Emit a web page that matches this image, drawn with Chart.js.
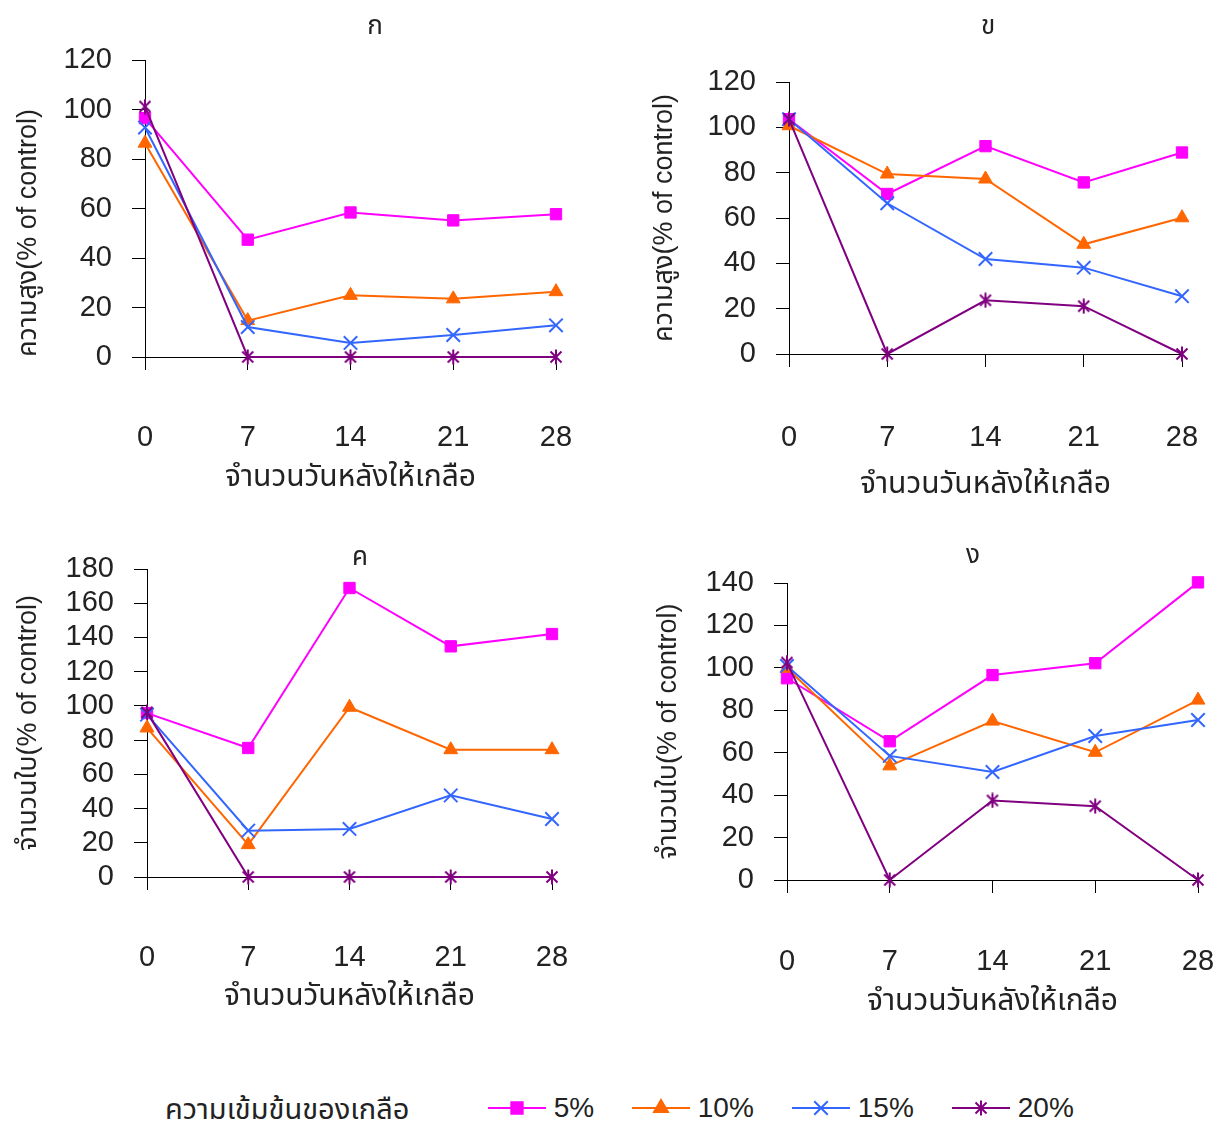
<!DOCTYPE html>
<html>
<head>
<meta charset="utf-8">
<script src="https://cdn.jsdelivr.net/npm/chart.js@4.4.1/dist/chart.umd.min.js"></script>
<style>
  html, body { margin: 0; padding: 0; background: #fff; }
  body { width: 1216px; height: 1124px; position: relative; overflow: hidden; }
  .panel { position: absolute; }
  #legend { position: absolute; left: 0; top: 1088px; width: 1216px; height: 36px; color: #222; }
  #legend .t { position: absolute; left: 165px; top: 0px; white-space: nowrap; }
  #legend .item { position: absolute; top: 4px; height: 32px; white-space: nowrap; }
  #legend canvas { vertical-align: middle; }
</style>
</head>
<body>
<canvas id="chartA" class="panel"></canvas>
<canvas id="chartB" class="panel"></canvas>
<canvas id="chartC" class="panel"></canvas>
<canvas id="chartD" class="panel"></canvas>
<div id="legend"></div>
<script>
// days after salt was given
const days = ['0', '7', '14', '21', '28'];
const seriesNames = ['5%', '10%', '15%', '20%'];

// ก : height (% of control)
const heightA5  = [96.5, 47.4, 58.4, 55.2, 57.7];
const heightA10 = [86.4, 14.7, 24.9, 23.5, 26.4];
const heightA15 = [92.7, 12.1, 5.7, 8.9, 12.8];
const heightA20 = [101.2, 0, 0, 0, 0];

// ข : height (% of control)
const heightB5  = [103.6, 70.6, 91.7, 75.7, 88.9];
const heightB10 = [100.7, 79.4, 77.2, 48.4, 60.1];
const heightB15 = [103.6, 66.5, 41.9, 38.1, 25.5];
const heightB20 = [103.6, 0, 23.7, 21.1, 0];

// ค : leaf number (% of control)
const leavesC5  = [95.8, 75.4, 168.9, 134.8, 142.0];
const leavesC10 = [87.1, 18.9, 99.2, 74.4, 74.4];
const leavesC15 = [94.9, 27.1, 28.1, 47.7, 33.9];
const leavesC20 = [96.2, 0, 0, 0, 0];

// ง : leaf number (% of control)
const leavesD5  = [95.1, 65.4, 96.6, 102.2, 140.3];
const leavesD10 = [99.8, 53.8, 74.9, 60.2, 84.8];
const leavesD15 = [100.9, 58.5, 50.9, 67.9, 75.4];
const leavesD20 = [102.5, 0, 37.5, 34.8, 0];

const FONT_NUM = "'Liberation Sans Narrow', 'Liberation Sans', sans-serif";
const FONT_TXT = "'Liberation Sans', 'Noto Sans Thai', 'Loma', 'Garuda', sans-serif";

// asterisk marker for the 20% series (X with a vertical bar)
function makeAsterisk(color) {
    const c = document.createElement('canvas');
    c.width = 16; c.height = 16;
    const g = c.getContext('2d');
    g.strokeStyle = color;
    g.lineWidth = 2;
    g.beginPath();
    g.moveTo(2.5, 2.5); g.lineTo(13.5, 13.5);
    g.moveTo(13.5, 2.5); g.lineTo(2.5, 13.5);
    g.moveTo(8, 0.5); g.lineTo(8, 15.5);
    g.stroke();
    return c;
}

const colors = ['#ff00ff', '#ff6600', '#3366ff', '#800080'];
const markers = ['rect', 'triangle', 'crossRot', makeAsterisk('#800080')];
const markerSize = [8, 8, 9.5, 8];

// draws the panel letter (ก ข ค ง) above each plot
const panelLetter = {
    id: 'panelLetter',
    afterDraw(chart, args, opts) {
        const ctx = chart.ctx;
        ctx.save();
        ctx.font = '26px ' + FONT_TXT;
        ctx.fillStyle = '#222';
        ctx.textAlign = 'center';
        ctx.textBaseline = 'middle';
        ctx.fillText(opts.text, opts.x, opts.y);
        ctx.restore();
    }
};

function makePanel(id, p) {
    const canvas = document.getElementById(id);
    canvas.style.left = p.box[0] + 'px';
    canvas.style.top = p.box[1] + 'px';
    canvas.style.width = p.box[2] + 'px';
    canvas.style.height = p.box[3] + 'px';
    canvas.width = p.box[2];
    canvas.height = p.box[3];

    const titleLh = 36;
    const tickLen = 13;
    const datasets = p.series.map((vals, i) => ({
        label: seriesNames[i],
        data: vals,
        borderColor: colors[i],
        backgroundColor: colors[i],
        borderWidth: 2,
        pointStyle: markers[i],
        pointRadius: markerSize[i],
        pointHoverRadius: markerSize[i],
        pointBorderWidth: i === 2 ? 2 : 1,
        tension: 0,
        order: 4 - i,
        clip: false
    }));

    const axisLine = { display: true, color: '#000', width: 1 };
    const gridOpts = { display: true, drawOnChartArea: false, drawTicks: true, tickLength: tickLen, color: '#000', lineWidth: 1 };

    return new Chart(canvas.getContext('2d'), {
        type: 'line',
        data: { labels: days, datasets: datasets },
        options: {
            responsive: false,
            animation: false,
            devicePixelRatio: 1,
            layout: {
                padding: {
                    left: 0,
                    top: p.plot[2] - p.box[1],
                    right: p.box[0] + p.box[2] - p.plot[1],
                    bottom: p.box[1] + p.box[3] - (p.xTitleY + titleLh / 2)
                }
            },
            plugins: {
                legend: { display: false },
                tooltip: { enabled: false },
                panelLetter: { text: p.letter, x: p.letterPos[0] - p.box[0], y: p.letterPos[1] - p.box[1] }
            },
            scales: {
                x: {
                    type: 'category',
                    offset: false,
                    grid: gridOpts,
                    border: axisLine,
                    ticks: {
                        color: '#222',
                        font: { family: FONT_NUM, size: 29 },
                        padding: p.xLabelY - p.plot[3] - tickLen - 17,
                        maxRotation: 0,
                        autoSkip: false
                    },
                    title: {
                        display: true,
                        text: 'จำนวนวันหลังให้เกลือ',
                        color: '#222',
                        font: { family: FONT_TXT, size: 30, lineHeight: titleLh / 30 },
                        padding: 0
                    },
                    afterFit(axis) {
                        axis.height = p.xTitleY + titleLh / 2 - p.plot[3];
                        axis.paddingLeft = 0;
                        axis.paddingRight = 0;
                    }
                },
                y: {
                    min: 0,
                    max: p.yMax,
                    grid: gridOpts,
                    border: axisLine,
                    ticks: {
                        stepSize: 20,
                        color: '#222',
                        font: { family: FONT_NUM, size: 29 },
                        padding: 20,
                        autoSkip: false
                    },
                    title: {
                        display: true,
                        text: p.yTitle,
                        align: p.yTitleAlign,
                        color: '#222',
                        font: { family: FONT_TXT, size: 27, lineHeight: 1.2 },
                        padding: { top: p.yTitleX - p.box[0] - 16, bottom: 0 }
                    },
                    afterFit(axis) {
                        axis.width = p.plot[0] - p.box[0];
                        axis.paddingTop = 0;
                        axis.paddingBottom = 0;
                    }
                }
            }
        },
        plugins: [panelLetter]
    });
}

makePanel('chartA', {
    box: [0, 0, 600, 520], plot: [145, 556, 60, 357],
    xLabelY: 438, xTitleY: 478, yTitleX: 28, yTitleAlign: 'start',
    yMax: 120, yTitle: 'ความสูง(% of control)',
    letter: 'ก', letterPos: [375, 27],
    series: [heightA5, heightA10, heightA15, heightA20]
});
makePanel('chartB', {
    box: [608, 0, 608, 520], plot: [789, 1182, 82, 354],
    xLabelY: 438, xTitleY: 485, yTitleX: 664, yTitleAlign: 'center',
    yMax: 120, yTitle: 'ความสูง(% of control)',
    letter: 'ข', letterPos: [988, 27],
    series: [heightB5, heightB10, heightB15, heightB20]
});
makePanel('chartC', {
    box: [0, 530, 600, 500], plot: [147, 552, 569, 877],
    xLabelY: 958, xTitleY: 997, yTitleX: 28, yTitleAlign: 'center',
    yMax: 180, yTitle: 'จำนวนใบ(% of control)',
    letter: 'ค', letterPos: [360, 558],
    series: [leavesC5, leavesC10, leavesC15, leavesC20]
});
makePanel('chartD', {
    box: [608, 530, 608, 500], plot: [787, 1198, 583, 880],
    xLabelY: 962, xTitleY: 1002, yTitleX: 668, yTitleAlign: 'center',
    yMax: 140, yTitle: 'จำนวนใบ(% of control)',
    letter: 'ง', letterPos: [973, 556],
    series: [leavesD5, leavesD10, leavesD15, leavesD20]
});

// legend row: salt concentration
const legend = document.getElementById('legend');
const title = document.createElement('span');
title.className = 't';
title.textContent = 'ความเข้มข้นของเกลือ';
title.style.fontFamily = FONT_TXT;
title.style.fontSize = '29px';
legend.appendChild(title);

const itemLeft = [488, 632, 792, 952];
seriesNames.forEach((name, i) => {
    const item = document.createElement('div');
    item.className = 'item';
    item.style.left = itemLeft[i] + 'px';
    const c = document.createElement('canvas');
    c.width = 58; c.height = 24;
    const g = c.getContext('2d');
    g.strokeStyle = colors[i];
    g.lineWidth = 2;
    g.beginPath(); g.moveTo(0, 12); g.lineTo(58, 12); g.stroke();
    g.fillStyle = colors[i];
    Chart.helpers.drawPoint(g, {
        pointStyle: markers[i], radius: markerSize[i], rotation: 0,
        borderWidth: i === 2 ? 2 : 1
    }, 29, 12);
    const s = document.createElement('span');
    s.textContent = ' ' + name;
    s.style.fontFamily = FONT_NUM;
    s.style.fontSize = '28px';
    s.style.verticalAlign = 'middle';
    item.appendChild(c);
    item.appendChild(s);
    legend.appendChild(item);
});
</script>
</body>
</html>
